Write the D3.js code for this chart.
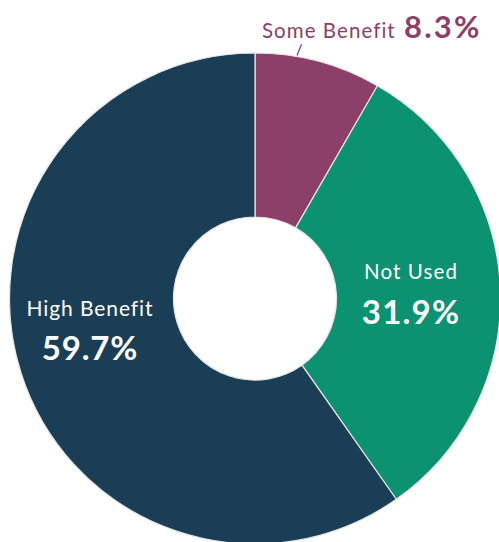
<!DOCTYPE html>
<html><head><meta charset="utf-8">
<script src="https://cdn.jsdelivr.net/npm/d3@7"></script>
<style>html,body{margin:0;padding:0;background:#fff;}svg{display:block;}</style>
</head><body>
<svg id="chart" width="499" height="542"></svg>
<script>
const categories = ["Some Benefit", "Not Used", "High Benefit"];
const values = [8.3, 31.9, 59.7];
const colors = ["#8C3F69", "#0B9271", "#1A3E56"];

const W = 499, H = 542;
const cx = 255, cy = 298.5, outerR = 245.5, innerR = 81.5;
const svg = d3.select("#chart");
const g = svg.append("g").attr("transform", `translate(${cx},${cy})`);

const data = categories.map((c, i) => ({ cat: c, value: values[i], color: colors[i] }));
const pie = d3.pie().value(d => d.value).sort(null);
const arc = d3.arc().innerRadius(innerR).outerRadius(outerR);
const arcs = pie(data);

g.selectAll("path").data(arcs).enter().append("path")
  .attr("d", arc)
  .attr("fill", d => d.data.color)
  .attr("stroke", "#e6e6e6")
  .attr("stroke-width", 1.2);

const font = "Lato, 'Open Sans', sans-serif";
const fmt = v => d3.format(".1f")(v) + "%";

// Some Benefit label (outside, with leader)
const sb = arcs[0];
const mid0 = (sb.startAngle + sb.endAngle) / 2;
const p1 = [Math.sin(mid0 - 0.09) * (outerR + 1), -Math.cos(mid0 - 0.09) * (outerR + 1)];
const p2 = [Math.sin(mid0 - 0.08) * (outerR + 13), -Math.cos(mid0 - 0.08) * (outerR + 13)];
g.append("line").attr("x1", p1[0]).attr("y1", p1[1]).attr("x2", p2[0]).attr("y2", p2[1])
  .attr("stroke", sb.data.color).attr("stroke-width", 1.2);
svg.append("text").attr("x", 262).attr("y", 38).attr("font-family", font).attr("fill", sb.data.color)
  .attr("font-size", 20.5).attr("letter-spacing", 1.05).text(sb.data.cat);
svg.append("text").attr("x", 404).attr("y", 38).attr("font-family", font).attr("fill", sb.data.color)
  .attr("font-size", 31).attr("font-weight", 700).attr("letter-spacing", 2.2).text(fmt(sb.data.value));

// Not Used (inside)
const nu = arcs[1];
svg.append("text").attr("x", 411).attr("y", 279).attr("text-anchor", "middle")
  .attr("font-family", font).attr("font-size", 20.5).attr("letter-spacing", 1.1).attr("fill", "#fff").text(nu.data.cat);
svg.append("text").attr("x", 411).attr("y", 324).attr("text-anchor", "middle")
  .attr("font-family", font).attr("font-size", 33).attr("font-weight", 700).attr("letter-spacing", 1.2).attr("fill", "#fff").text(fmt(nu.data.value));

// High Benefit (inside)
const hb = arcs[2];
svg.append("text").attr("x", 90).attr("y", 316).attr("text-anchor", "middle")
  .attr("font-family", font).attr("font-size", 21).attr("letter-spacing", 0.9).attr("fill", "#fff").text(hb.data.cat);
svg.append("text").attr("x", 90).attr("y", 360).attr("text-anchor", "middle")
  .attr("font-family", font).attr("font-size", 33).attr("font-weight", 700).attr("letter-spacing", 0.8).attr("fill", "#fff").text(fmt(hb.data.value));
</script>
</body></html>
